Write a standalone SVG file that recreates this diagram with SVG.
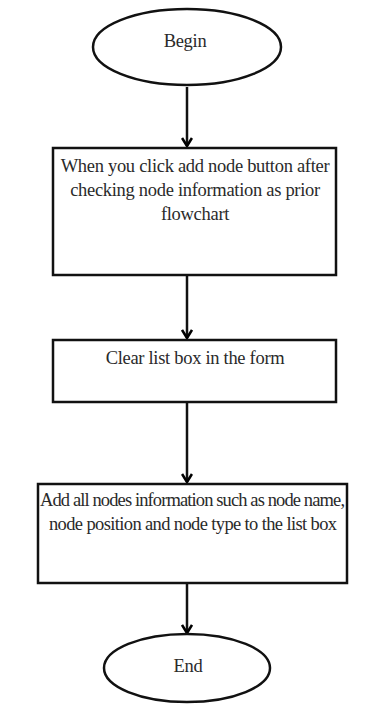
<svg xmlns="http://www.w3.org/2000/svg" width="380" height="708" viewBox="0 0 380 708">
<defs>
<marker id="ah" markerWidth="12" markerHeight="12" refX="9" refY="6" orient="auto" markerUnits="userSpaceOnUse" viewBox="0 0 12 12">
<path d="M1,1 L9,6 L1,11" fill="none" stroke="#000" stroke-width="2.6"/>
</marker>
</defs>
<style>
.sh{fill:#fff;stroke:#111;stroke-width:2.5}
.t{font-family:'Liberation Serif','DejaVu Serif',serif;font-size:18.5px;fill:#2a2a2a;text-anchor:middle;letter-spacing:-0.3px}
.n{letter-spacing:0}
.c{stroke:#111;stroke-width:2.5;fill:none;marker-end:url(#ah)}
</style>
<rect width="380" height="708" fill="#fff"/>
<g id="connectors">
<line class="c" x1="187" y1="87" x2="187" y2="146"/>
<line class="c" x1="187" y1="276" x2="187" y2="338"/>
<line class="c" x1="187" y1="403" x2="187" y2="482"/>
<line class="c" x1="187" y1="584" x2="187" y2="633"/>
</g>
<g id="begin">
<ellipse class="sh" cx="187" cy="47" rx="94" ry="38"/>
<text class="t" x="185" y="47">Begin</text>
</g>
<g id="step1">
<rect class="sh" x="53" y="148" width="283" height="127"/>
<text class="t" x="195" y="172">When you click add node button after</text>
<text class="t" x="195" y="196">checking node information as prior</text>
<text class="t" x="195" y="220">flowchart</text>
</g>
<g id="step2">
<rect class="sh" x="53" y="340" width="283" height="62"/>
<text class="t" x="195" y="364">Clear list box in the form</text>
</g>
<g id="step3">
<rect class="sh" x="38" y="484" width="309" height="99"/>
<text class="t n" x="192.5" y="506" textLength="305" lengthAdjust="spacing">Add all nodes information such as node name,</text>
<text class="t n" x="193" y="530" textLength="288" lengthAdjust="spacing">node position and node type to the list box</text>
</g>
<g id="end">
<ellipse class="sh" cx="187" cy="668" rx="83" ry="34"/>
<text class="t" x="188" y="672">End</text>
</g>
</svg>
